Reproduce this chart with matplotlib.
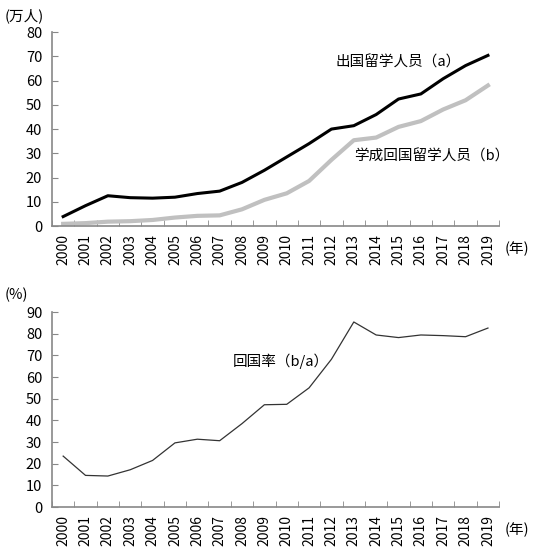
import matplotlib
matplotlib.use("Agg")
from matplotlib import pyplot as plt
from matplotlib.ticker import FixedLocator

plt.rcParams['font.family'] = ['Noto Sans CJK SC', 'DejaVu Sans']

# Data
years = [str(y) for y in range(2000, 2020)]
outbound = [3.9, 8.4, 12.5, 11.7, 11.5, 11.9, 13.4, 14.4, 18.0, 23.0,
            28.5, 34.0, 40.0, 41.4, 46.0, 52.4, 54.5, 60.8, 66.2, 70.4]
returned = [0.9, 1.2, 1.8, 2.0, 2.5, 3.5, 4.2, 4.4, 6.9, 10.8,
            13.5, 18.6, 27.3, 35.4, 36.5, 40.9, 43.3, 48.1, 51.9, 58.0]
return_rate = [23.5, 14.6, 14.3, 17.2, 21.5, 29.6, 31.3, 30.6, 38.5, 47.2,
               47.4, 55.0, 68.2, 85.4, 79.4, 78.2, 79.4, 79.1, 78.6, 82.6]

x = list(range(len(years)))
axis_grey = "#888888"


def style_axes(ax, ymax, step):
    ax.set_xlim(-0.5, len(years) - 0.5)
    ax.set_ylim(0, ymax)
    ax.set_yticks(range(0, ymax + 1, step))
    ax.set_xticks(x)
    ax.set_xticklabels(years, rotation=90, fontsize=10)
    ax.xaxis.set_minor_locator(FixedLocator([i - 0.5 for i in range(len(years) + 1)]))
    ax.tick_params(axis="x", which="major", length=0, pad=6)
    ax.tick_params(axis="x", which="minor", direction="in", length=4, color=axis_grey)
    ax.tick_params(axis="y", direction="in", length=4, color=axis_grey, labelsize=10.5, pad=7)
    for s in ["top", "right"]:
        ax.spines[s].set_visible(False)
    for s in ["left", "bottom"]:
        ax.spines[s].set_color(axis_grey)
        ax.spines[s].set_linewidth(1.2)


fig = plt.figure(figsize=(5.5, 5.54), dpi=100)

# Top: headcounts
ax1 = fig.add_axes([0.0945, 0.592, 0.813, 0.350])
ax1.plot(x, returned, color="#c0c0c0", lw=3)
ax1.plot(x, outbound, color="black", lw=2.2)
style_axes(ax1, 80, 10)
ax1.text(12.2, 67.5, "出国留学人员（a）", fontsize=10.5, va="center")
ax1.text(13.0, 28.5, "学成回国留学人员（b）", fontsize=10.5, va="center")
fig.text(0.008, 0.972, "(万人)", fontsize=10.5, va="center")
fig.text(0.918, 0.550, "(年)", fontsize=10.5, va="center")

# Bottom: return rate
ax2 = fig.add_axes([0.0945, 0.0848, 0.813, 0.352])
ax2.plot(x, return_rate, color="#333333", lw=0.9)
style_axes(ax2, 90, 10)
ax2.text(7.6, 67.5, "回国率（b/a）", fontsize=10.5, va="center")
fig.text(0.008, 0.467, "(%)", fontsize=10.5, va="center")
fig.text(0.918, 0.044, "(年)", fontsize=10.5, va="center")

plt.savefig("out.png", dpi=100)
